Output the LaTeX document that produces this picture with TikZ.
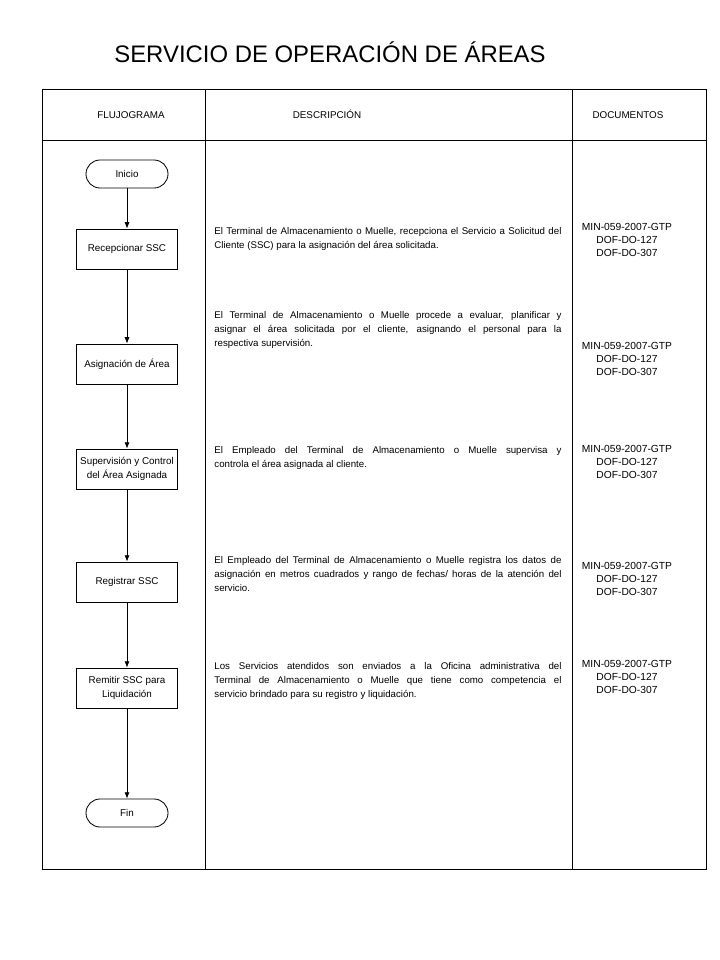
\documentclass[tikz,border=0pt]{standalone}
\usepackage{fontspec}
\setmainfont{Liberation Sans}
\usetikzlibrary{arrows.meta,positioning}

\begin{document}
\begin{tikzpicture}[x=0.025cm,y=-0.025cm,line width=0.6pt,
      font=\fontsize{7}{9.7}\selectfont,
      cabecera/.style={anchor=base,inner sep=0pt},
      paso/.style={draw,minimum width=2.525cm,minimum height=1cm,
                   align=center,inner sep=1pt},
      terminal/.style={draw,rounded corners=0.35cm,minimum width=2.05cm,
                   minimum height=0.7cm},
      desc/.style={anchor=north west,text width=8.675cm,align=justify,
                   inner sep=0pt,font=\fontsize{6.9}{9.8}\selectfont},
      docs/.style={anchor=north,align=center,inner sep=0pt,
                   font=\fontsize{7.3}{9.2}\selectfont}]
    \useasboundingbox (0,0) rectangle (720,960);

    % TITULO
    \node[font=\fontsize{17}{20}\selectfont] (titulo) at (330,52)
      {SERVICIO DE OPERACIÓN DE ÁREAS};

    % TABLA — marco, cabecera y columnas
    \draw (42,89) rectangle (706,869);
    \draw (42,140) -- (706,140);
    \draw (205,89) -- (205,869);
    \draw (572,89) -- (572,869);
    \node[cabecera] (hflujo) at (131,118) {FLUJOGRAMA};
    \node[cabecera] (hdesc) at (327,118) {DESCRIPCIÓN};
    \node[cabecera] (hdocs) at (628,118) {DOCUMENTOS};

    % FLUJOGRAMA
    \node[terminal] (ini) at (127,174) {Inicio};
    \node[paso] (p1) at (127,249) {Recepcionar SSC};
    \node[paso] (p2) at (127,364) {Asignación de Área};
    \node[paso] (p3) at (127,469) {Supervisión y Control\\del Área Asignada};
    \node[paso] (p4) at (127,582) {Registrar SSC};
    \node[paso] (p5) at (127,688) {Remitir SSC para\\Liquidación};
    \node[terminal] (fin) at (127,813) {Fin};
    \foreach \a/\b in {ini/p1,p1/p2,p2/p3,p3/p4,p4/p5,p5/fin}
      \draw[-{Latex[length=4.5pt,width=3.6pt]}] (\a) -- (\b);

    % DESCRIPCION
    \node[desc] (d1) at (214,227) {El Terminal de Almacenamiento o Muelle, recepciona el Servicio a Solicitud del\linebreak
      Cliente (SSC) para la asignación del área solicitada.};
    \node[desc] (d2) at (214,311) {El Terminal de Almacenamiento o Muelle procede a evaluar, planificar y\linebreak
      asignar el área solicitada por el cliente, asignando el personal para la\linebreak
      respectiva supervisión.};
    \node[desc] (d3) at (214,446) {El Empleado del Terminal de Almacenamiento o Muelle supervisa y\linebreak
      controla el área asignada al cliente.};
    \node[desc] (d4) at (214,556) {El Empleado del Terminal de Almacenamiento o Muelle registra los datos de\linebreak
      asignación en metros cuadrados y rango de fechas/ horas de la atención del\linebreak
      servicio.};
    \node[desc] (d5) at (214,662) {Los Servicios atendidos son enviados a la Oficina administrativa del\linebreak
      Terminal de Almacenamiento o Muelle que tiene como competencia el\linebreak
      servicio brindado para su registro y liquidación.};

    % DOCUMENTOS
    \foreach \n/\y in {1/223,2/342,3/445,4/562,5/660}
      \node[docs] (doc\n) at (627,\y) {MIN-059-2007-GTP\\DOF-DO-127\\DOF-DO-307};
  \end{tikzpicture}
\end{document}
